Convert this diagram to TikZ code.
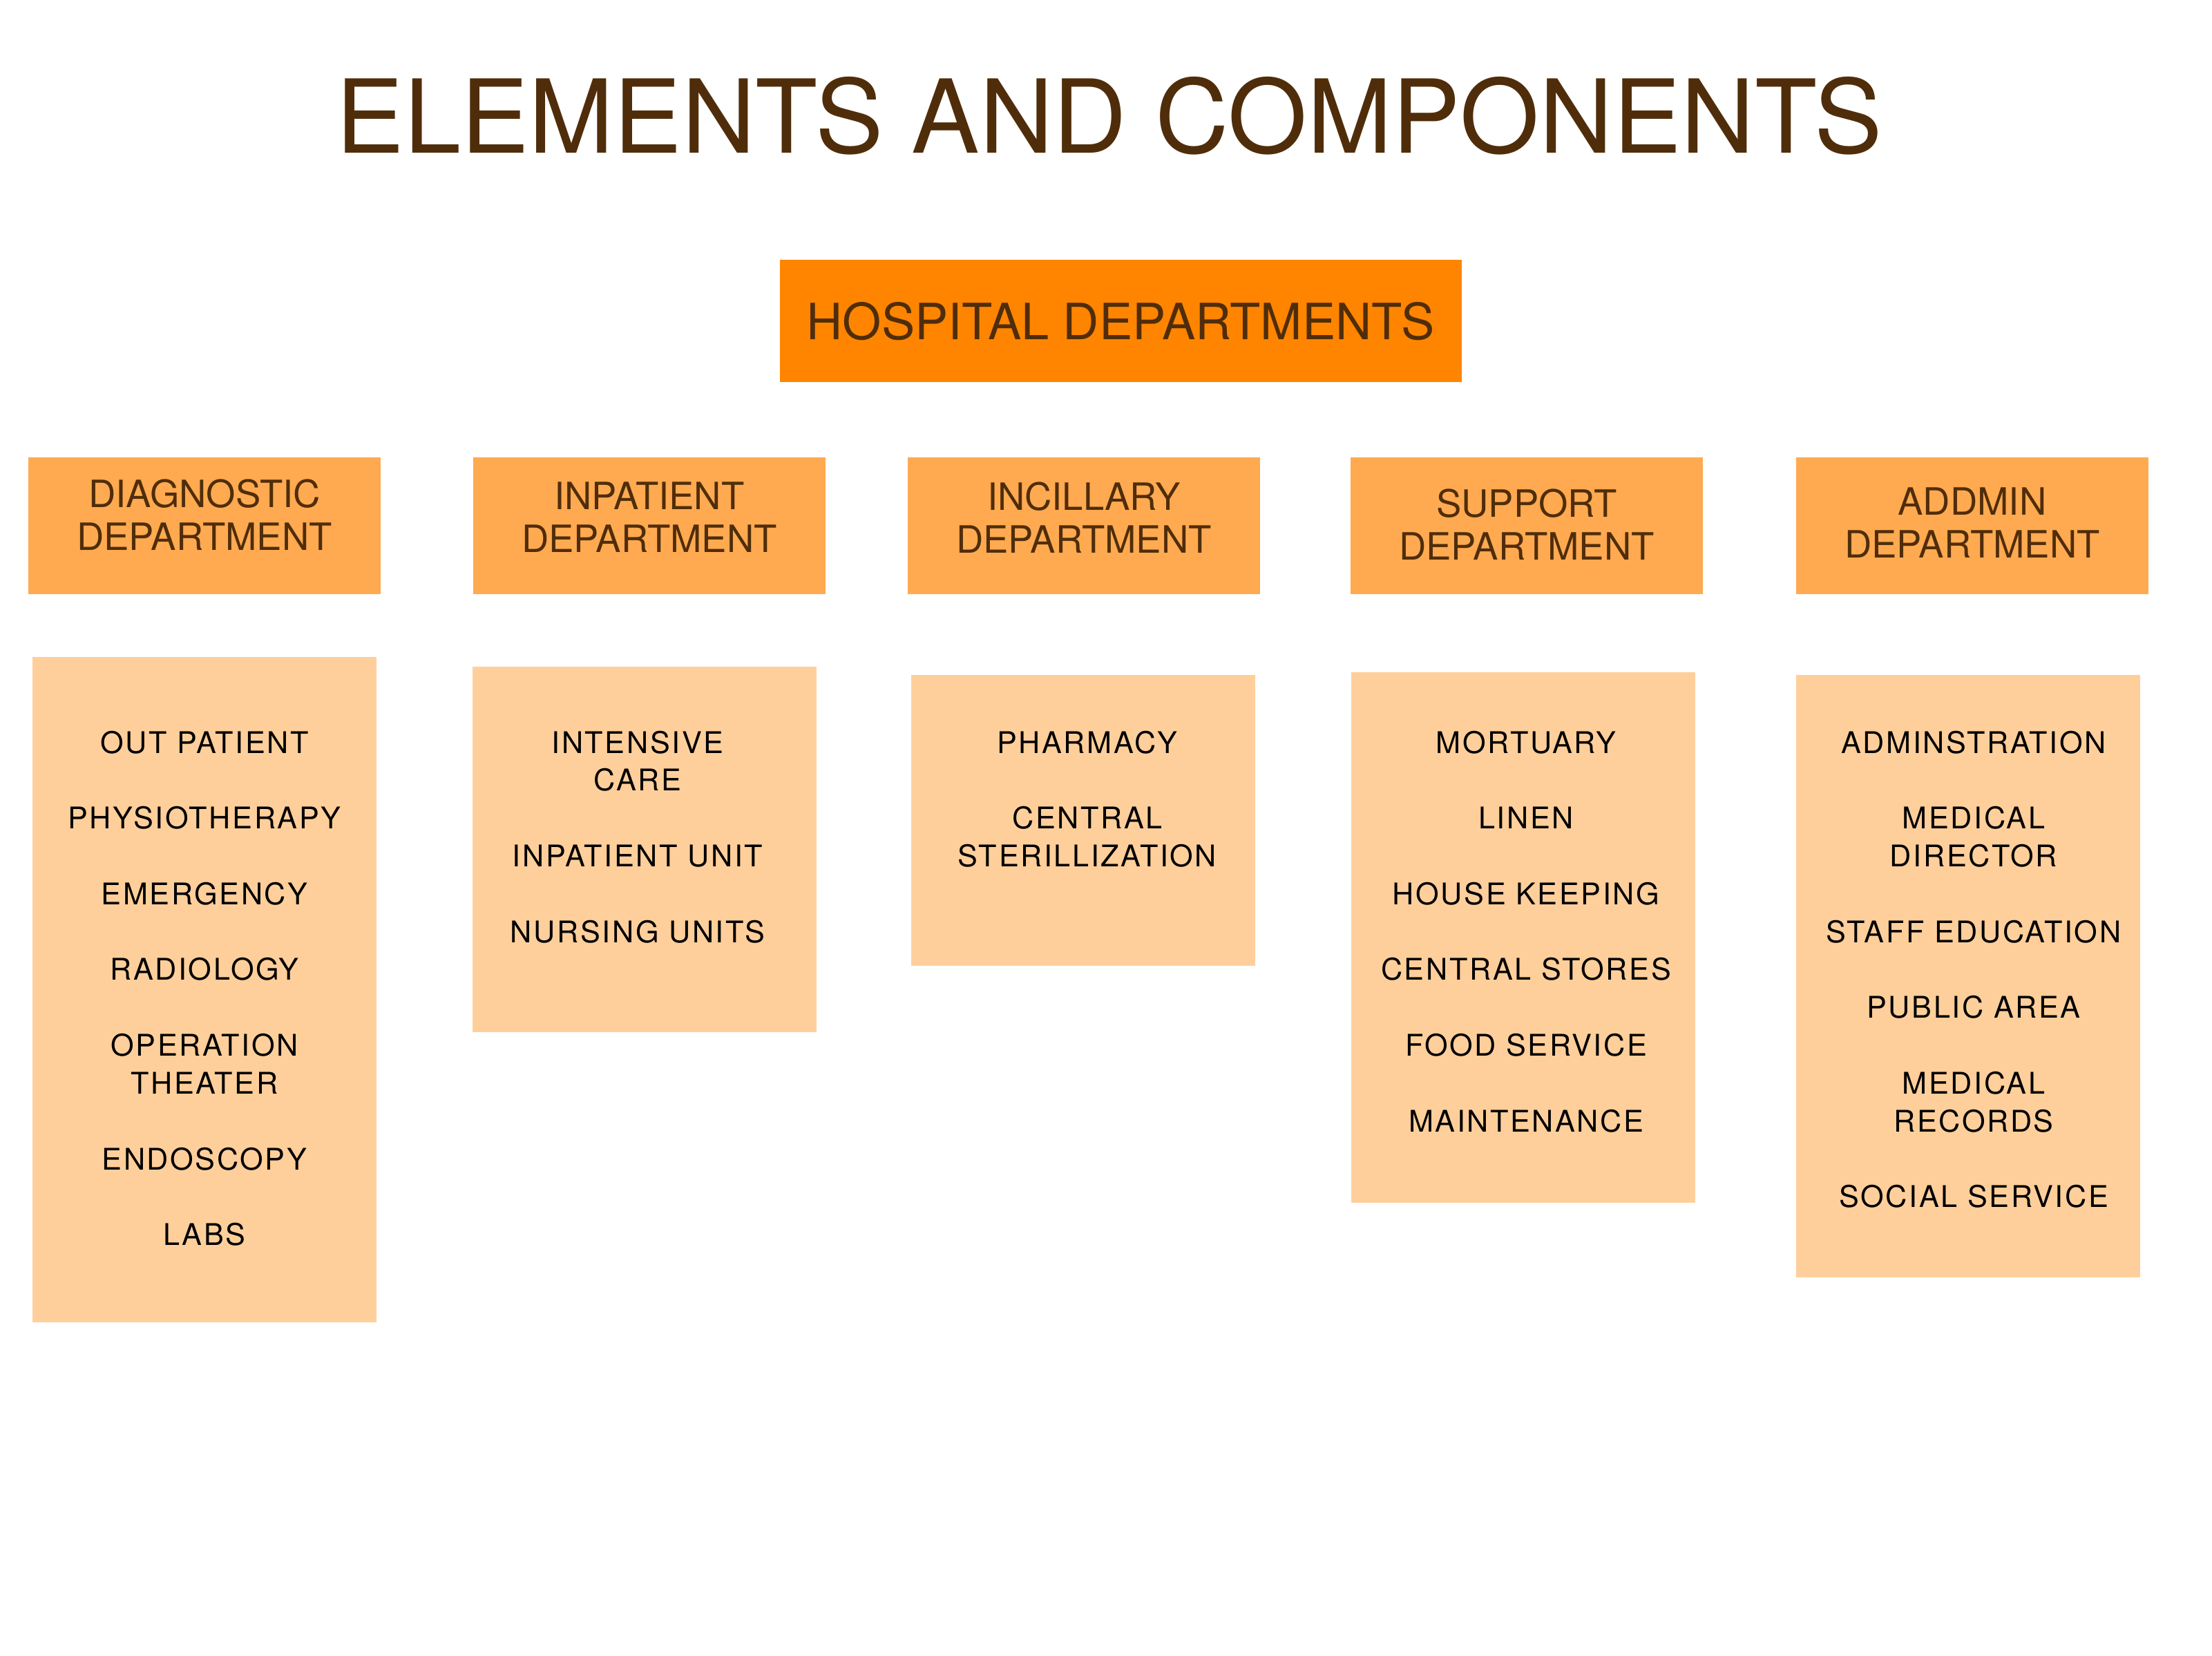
\documentclass[tikz,border=0pt]{standalone}
\usepackage{fontspec}
\setmainfont{TeX Gyre Heros}
\newfontfamily\itemfont[LetterSpace=6]{TeX Gyre Heros}
\usetikzlibrary{positioning}

\definecolor{titlebrown}{RGB}{80,45,10}
\definecolor{mainorange}{RGB}{255,133,0}
\definecolor{deptorange}{RGB}{255,170,80}
\definecolor{itempeach}{RGB}{255,207,155}

\tikzset{
    titletext/.style={text=titlebrown, inner sep=0pt, font=\fontsize{42}{48}\selectfont},
    mainbox/.style={fill=mainorange, minimum width=9.87cm, minimum height=1.77cm,
        text=titlebrown, font=\fontsize{20.6}{24}\selectfont},
    deptbox/.style={fill=deptorange, minimum width=5.10cm, minimum height=1.98cm,
        text=titlebrown, align=center, font=\fontsize{15.5}{17.6}\selectfont},
    listbox/.style={fill=itempeach, minimum width=4.98cm, anchor=north, inner sep=0pt},
    listtext/.style={anchor=north, inner sep=0pt, align=center,
        font=\itemfont\fontsize{12.3}{15.6}\selectfont}
}

% gap between two entries of a list
\def\gap{15.6pt}

\begin{document}
\begin{tikzpicture}

% page frame
\fill[white] (0,0) rectangle (32.02,-23.97);
\useasboundingbox (0,0) rectangle (32.02,-23.97);

% Title
\node[titletext] (title) at (16.06,-1.68) {ELEMENTS AND COMPONENTS};

% Top box
\node[mainbox] (hosp) at (16.22,-4.65) {HOSPITAL DEPARTMENTS};

% Department headers (text depth lifts the two lines a little)
\node[deptbox, text depth=0.32cm] (diag) at (2.96,-7.61) {DIAGNOSTIC\\DEPARTMENT};
\node[deptbox, text depth=0.24cm] (inpat) at (9.40,-7.61) {INPATIENT\\DEPARTMENT};
\node[deptbox, text depth=0.24cm] (incil) at (15.69,-7.61) {INCILLARY\\DEPARTMENT};
\node[deptbox, text depth=0.04cm] (supp) at (22.10,-7.61) {SUPPORT\\DEPARTMENT};
\node[deptbox, text depth=0.08cm] (admin) at (28.55,-7.61) {ADDMIN\\DEPARTMENT};

% List boxes (top edge, height)
\node[listbox, minimum height=9.63cm] (diagbox) at (2.96,-9.50) {};
\node[listbox, minimum height=5.29cm] (inpatbox) at (9.33,-9.64) {};
\node[listbox, minimum height=4.21cm] (incilbox) at (15.68,-9.76) {};
\node[listbox, minimum height=7.68cm] (suppbox) at (22.05,-9.72) {};
\node[listbox, minimum height=8.72cm] (adminbox) at (28.49,-9.76) {};

% List entries
\node[listtext] (diaglist) at (2.96,-10.57) {OUT PATIENT\\[\gap]
    PHYSIOTHERAPY\\[\gap]
    EMERGENCY\\[\gap]
    RADIOLOGY\\[\gap]
    OPERATION\\THEATER\\[\gap]
    ENDOSCOPY\\[\gap]
    LABS};
\node[listtext] (inpatlist) at (9.23,-10.57) {INTENSIVE\\CARE\\[\gap]
    INPATIENT UNIT\\[\gap]
    NURSING UNITS};
\node[listtext] (incillist) at (15.74,-10.57) {PHARMACY\\[\gap]
    CENTRAL\\STERILLIZATION};
\node[listtext] (supplist) at (22.09,-10.57) {MORTUARY\\[\gap]
    LINEN\\[\gap]
    HOUSE KEEPING\\[\gap]
    CENTRAL STORES\\[\gap]
    FOOD SERVICE\\[\gap]
    MAINTENANCE};
\node[listtext] (adminlist) at (28.57,-10.57) {ADMINSTRATION\\[\gap]
    MEDICAL\\DIRECTOR\\[\gap]
    STAFF EDUCATION\\[\gap]
    PUBLIC AREA\\[\gap]
    MEDICAL\\RECORDS\\[\gap]
    SOCIAL SERVICE};

\end{tikzpicture}
\end{document}
